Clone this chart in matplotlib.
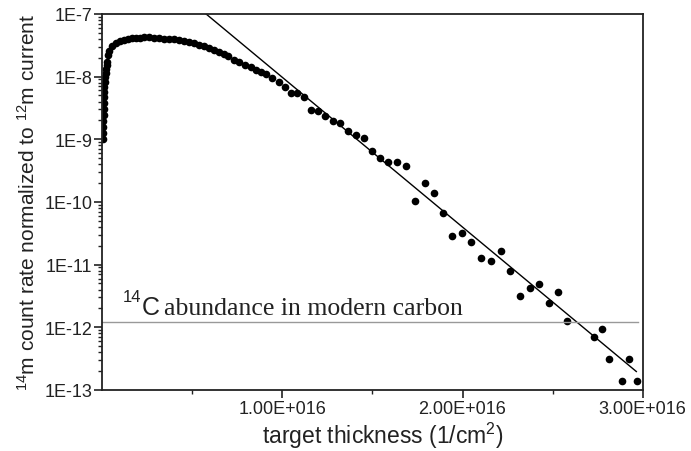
import numpy as np
import matplotlib
matplotlib.use('Agg')
import matplotlib.pyplot as plt
from matplotlib import ticker

# measured points, x in units of 1E16 /cm^2
rise_x = [0.005, 0.005, 0.005, 0.006, 0.007, 0.008, 0.009, 0.010, 0.011, 0.012,
          0.014, 0.016, 0.018, 0.020, 0.024, 0.028]
rise_y = [1.01e-9, 1.26e-9, 1.58e-9, 1.96e-9, 2.45e-9, 3.05e-9, 3.81e-9, 4.74e-9,
          5.70e-9, 6.85e-9, 8.22e-9, 9.89e-9, 1.15e-8, 1.33e-8, 1.54e-8, 1.71e-8]

dense_x = [0.033, 0.039, 0.056, 0.078, 0.100, 0.122, 0.144, 0.167, 0.189, 0.211,
           0.233, 0.261, 0.289, 0.317, 0.344, 0.372, 0.400, 0.428, 0.456, 0.483,
           0.511, 0.539, 0.567, 0.594, 0.622, 0.650, 0.678, 0.700]
dense_y = [2.22e-8, 2.57e-8, 3.09e-8, 3.45e-8, 3.64e-8, 3.85e-8, 3.99e-8, 4.09e-8,
           4.14e-8, 4.20e-8, 4.22e-8, 4.22e-8, 4.17e-8, 4.11e-8, 4.05e-8, 3.99e-8,
           3.92e-8, 3.78e-8, 3.64e-8, 3.51e-8, 3.39e-8, 3.21e-8, 3.03e-8, 2.87e-8,
           2.67e-8, 2.48e-8, 2.30e-8, 2.14e-8]

tail_x = [0.733, 0.761, 0.794, 0.826, 0.856, 0.883, 0.911, 0.944, 0.981, 1.014,
          1.047, 1.081, 1.122, 1.159, 1.200, 1.239, 1.279, 1.321, 1.363, 1.406,
          1.452, 1.498, 1.543, 1.589, 1.637, 1.687, 1.737, 1.789, 1.839, 1.891,
          1.943, 1.996, 2.048, 2.104, 2.156, 2.211, 2.265, 2.317, 2.372, 2.424,
          2.478, 2.529, 2.579, 2.728, 2.774, 2.813, 2.922, 2.885, 2.971]
tail_y = [1.85e-8, 1.70e-8, 1.54e-8, 1.41e-8, 1.28e-8, 1.19e-8, 1.10e-8, 9.53e-9,
          8.32e-9, 6.77e-9, 5.56e-9, 5.40e-9, 4.69e-9, 2.98e-9, 2.87e-9, 2.39e-9,
          1.99e-9, 1.83e-9, 1.35e-9, 1.19e-9, 1.05e-9, 6.46e-10, 5.05e-10, 4.41e-10,
          4.31e-10, 3.72e-10, 1.03e-10, 2.02e-10, 1.40e-10, 6.70e-11, 2.85e-11,
          3.22e-11, 2.28e-11, 1.27e-11, 1.13e-11, 1.64e-11, 7.82e-12, 3.21e-12,
          4.27e-12, 4.94e-12, 2.46e-12, 3.72e-12, 1.26e-12, 6.98e-13, 9.46e-13,
          3.15e-13, 3.15e-13, 1.39e-13, 1.39e-13]

fit_x = [0.576, 2.965]
fit_y = [1.0e-7, 1.97e-13]

modern_level = 1.2e-12
modern_x = [0.0, 2.972]

xticks = [1.0, 2.0, 3.0]
xticklabels = ['1.00E+016', '2.00E+016', '3.00E+016']
yticks = [1e-13, 1e-12, 1e-11, 1e-10, 1e-9, 1e-8, 1e-7]
yticklabels = ['1E-13', '1E-12', '1E-11', '1E-10', '1E-9', '1E-8', '1E-7']

plt.rcParams['font.family'] = ['Liberation Sans', 'DejaVu Sans']
plt.rcParams['mathtext.default'] = 'regular'

fig = plt.figure(figsize=(6.91, 4.52), dpi=100)
ax = fig.add_axes([0.148, 0.135, 0.782, 0.832])

xs = np.concatenate([rise_x, dense_x, tail_x]) * 1e16
ys = np.concatenate([rise_y, dense_y, tail_y])
ax.plot(xs, ys, 'o', color='black', ms=5.5, mew=0)

ax.plot(np.array(fit_x) * 1e16, fit_y, color='black', lw=1.0)
ax.plot(np.array(modern_x) * 1e16, [modern_level] * 2, color='#999999', lw=1.0)

ax.set_yscale('log')
ax.set_xlim(0, 3.0e16)
ax.set_ylim(1e-13, 1e-7)

ax.set_xticks([x * 1e16 for x in xticks])
ax.set_xticklabels(xticklabels)
ax.xaxis.set_minor_locator(ticker.FixedLocator([0.5e16, 1.5e16, 2.5e16]))
ax.set_yticks(yticks)
ax.set_yticklabels(yticklabels)
ax.yaxis.set_minor_locator(ticker.LogLocator(base=10, subs=np.arange(2, 10)))
ax.yaxis.set_minor_formatter(ticker.NullFormatter())

ax.tick_params(which='major', direction='out', length=6, width=1.2,
               labelsize=13, colors='#222222', pad=1)
ax.tick_params(which='minor', direction='out', length=3, width=1.0, colors='#222222')
for s in ax.spines.values():
  s.set_linewidth(1.3)
  s.set_color('#222222')

ax.set_xlabel('target thickness (1/cm$^2$)', fontsize=16.5, color='#222222')
ax.xaxis.set_label_coords(0.52, -0.078)
ax.set_ylabel('$^{14}$m count rate normalized to $^{12}$m current', fontsize=15,
              color='#222222', labelpad=4)

# 14C abundance label: '14' sits higher, 'C' and the words share a baseline
sup_base = 2.65e-12
text_base = 1.64e-12
t1 = ax.text(0.111e16, sup_base, '14', fontsize=12, color='#222222',
             va='baseline', ha='left')
t2 = ax.annotate('C', xy=(1, text_base), xycoords=(t1, ax.transData),
                 xytext=(1, 0), textcoords='offset points', va='baseline',
                 fontsize=18, color='#222222')
t3 = ax.annotate('abundance in modern carbon', xy=(1, text_base),
                 xycoords=(t2, ax.transData), xytext=(3, 0),
                 textcoords='offset points', va='baseline',
                 fontsize=18.5, family='Liberation Serif', color='#222222')

fig.savefig('out.png', dpi=100)
